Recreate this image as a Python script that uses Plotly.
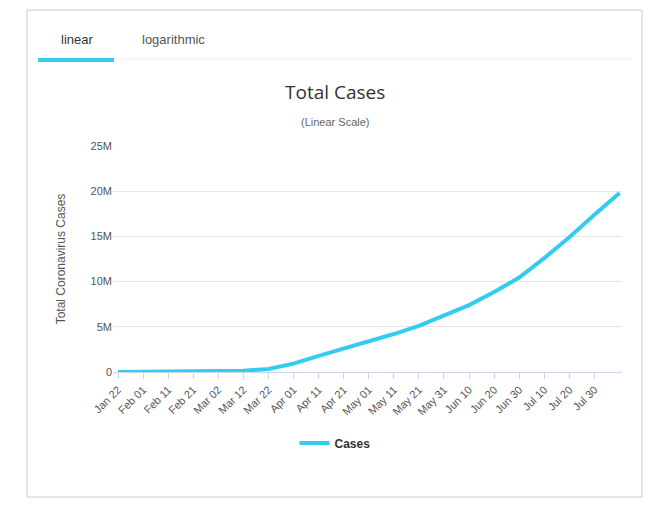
import plotly.graph_objects as go

dates = ["2020-01-22", "2020-02-01", "2020-02-11", "2020-02-21", "2020-03-02",
         "2020-03-12", "2020-03-22", "2020-04-01", "2020-04-11", "2020-04-21",
         "2020-05-01", "2020-05-11", "2020-05-21", "2020-05-31", "2020-06-10",
         "2020-06-20", "2020-06-30", "2020-07-10", "2020-07-20", "2020-07-30",
         "2020-08-09"]
cases = [580, 12000, 45000, 77000, 90000, 128000, 340000, 930000, 1780000, 2550000,
         3380000, 4200000, 5100000, 6200000, 7400000, 8850000, 10450000, 12600000,
         14900000, 17400000, 19800000]
tick_labels = ["Jan 22", "Feb 01", "Feb 11", "Feb 21", "Mar 02", "Mar 12", "Mar 22",
               "Apr 01", "Apr 11", "Apr 21", "May 01", "May 11", "May 21", "May 31",
               "Jun 10", "Jun 20", "Jun 30", "Jul 10", "Jul 20", "Jul 30"]

W, H = 669, 508
OFF = 8  # page body margin
L, R, T, B = 113 - OFF, 622 - OFF, 146 - OFF, 372 - OFF


def px(x):
    return (x - OFF - L) / (R - L)


def py(y):
    return (B - (y - OFF)) / (B - T)


color = "#33ccee"


def label(text, x, y, size, col, family="Liberation Sans, Arial"):
    return dict(text=text, xref="paper", yref="paper", x=px(x), y=py(y),
                xanchor="center", yanchor="middle", showarrow=False,
                font=dict(size=size, color=col, family=family))


fig = go.Figure()
fig.add_trace(go.Scatter(x=dates, y=cases, mode="lines", name="<b>Cases</b>",
                         line=dict(color=color, width=4)))

fig.update_layout(
    width=W, height=H,
    margin=dict(l=L, r=W - R, t=T, b=H - B),
    paper_bgcolor="white", plot_bgcolor="white",
    font=dict(family="Liberation Sans, Arial", size=11, color="#555"),
    showlegend=True,
    legend=dict(orientation="h", x=px(335), xanchor="center", y=py(443), yanchor="middle",
                itemwidth=30,
                font=dict(size=12, color="#333", family="Liberation Sans, Arial")),
    xaxis=dict(type="date", range=["2020-01-20", "2020-08-10"],
               tickvals=dates[:-1], ticktext=tick_labels, tickangle=-45,
               showgrid=False, showline=True, linecolor="#ccd6eb",
               ticks="outside", tickcolor="#ccd6eb", ticklen=6,
               tickfont=dict(size=11, color="#555")),
    yaxis=dict(range=[0, 25e6], tickvals=[0, 5e6, 10e6, 15e6, 20e6, 25e6],
               ticktext=["0", "5M", "10M", "15M", "20M", "25M"],
               gridcolor="#e6e6e6", zeroline=False,
               title=dict(text="Total Coronavirus Cases", font=dict(size=12, color="#555"),
                          standoff=22),
               tickfont=dict(size=11, color="#555")),
    shapes=[
        dict(type="rect", xref="paper", yref="paper", x0=px(27), x1=px(642),
             y0=py(497), y1=py(10), line=dict(color="#cccccc", width=1)),
        dict(type="line", xref="paper", yref="paper", x0=px(38), x1=px(632),
             y0=py(59), y1=py(59), line=dict(color="#eeeeee", width=1)),
        dict(type="line", xref="paper", yref="paper", x0=px(38), x1=px(114),
             y0=py(60), y1=py(60), line=dict(color=color, width=4)),
    ],
    annotations=[
        label("linear", 77, 40, 13, "#333"),
        label("logarithmic", 173, 40, 13, "#555"),
        label("Total Cases", 335, 92, 19, "#333", "Open Sans"),
        label("(Linear Scale)", 335, 122, 11, "#666"),
    ],
)

fig.write_html("out.html")
